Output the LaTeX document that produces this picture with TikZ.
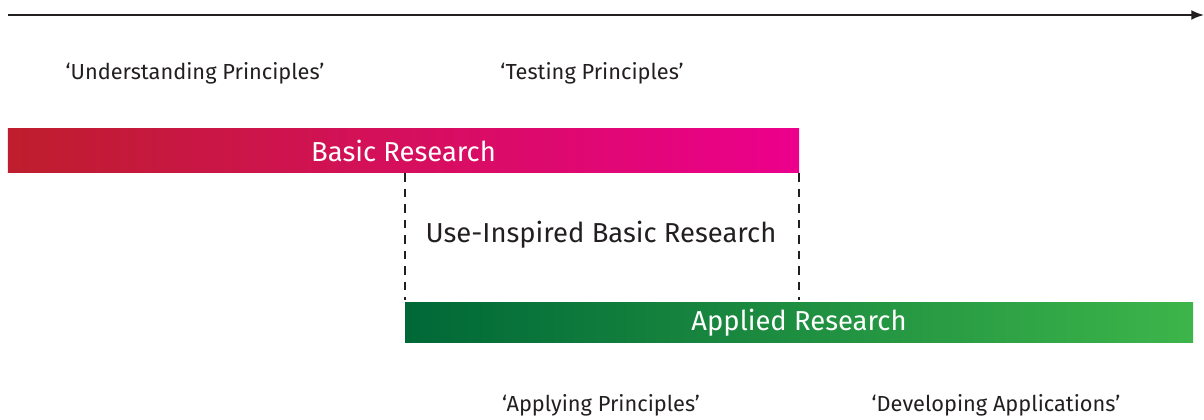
\documentclass[tikz,border=0pt]{standalone}
\usepackage{fontspec}
\setmainfont{Fira Sans}
\usepackage{tikz}
\usetikzlibrary{positioning,calc,arrows.meta}
\usepackage{xcolor}

\definecolor{basicL}{HTML}{BE1E2D}
\definecolor{basicR}{HTML}{EC008C}
\definecolor{appliedL}{HTML}{006837}
\definecolor{appliedR}{HTML}{3DB54A}
\definecolor{ink}{HTML}{231F20}

\begin{document}
\begin{tikzpicture}[
    bar/.style={rectangle,inner sep=0pt,text=white,font=\fontsize{19.5}{22}\selectfont},
    quote/.style={text=ink,font=\fontsize{15.5}{18}\selectfont},
    guide/.style={ink,line width=1.5pt,dash pattern=on 6pt off 5pt}]

\useasboundingbox (0,0) rectangle (30.1,10.475);

% time axis
\coordinate (start) at (0.2,10.1);
\coordinate (end) at (30.1,10.1);
\draw[-{Latex[length=9pt,width=7pt]},line width=1.3pt,ink] (start) -- (end);

% the two research bars
\node[bar,minimum width=19.775cm,minimum height=1.1cm,left color=basicL,right color=basicR]
    (basic) at (10.0875,6.7) {Basic Research};
\node[bar,minimum width=19.7cm,minimum height=1.0cm,left color=appliedL,right color=appliedR]
    (applied) at (19.975,2.4) {Applied Research};

% overlap region
\draw[guide] (applied.north west |- basic.south) -- ([yshift=2pt]applied.north west);
\draw[guide] (basic.south east) -- ([yshift=2pt]basic.south east |- applied.north);
\node[text=ink,font=\fontsize{19.5}{22}\selectfont] (useinspired) at (15.025,4.6) {Use-Inspired Basic Research};

% labels
\node[quote] (understanding) at (4.875,8.65) {‘Understanding Principles’};
\node[quote] (testing) at (14.8,8.65) {‘Testing Principles’};
\node[quote] (applying) at (15.025,0.35) {‘Applying Principles’};
\node[quote] (developing) at (24.9,0.35) {‘Developing Applications’};
\end{tikzpicture}
\end{document}
